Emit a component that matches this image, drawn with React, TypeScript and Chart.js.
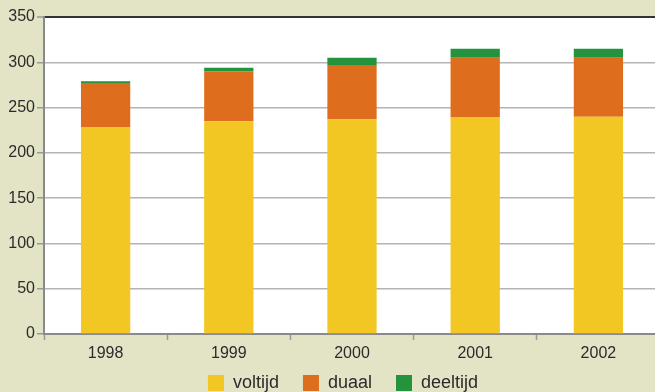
import React, { useEffect, useRef } from "react";
import { Chart, registerables } from "chart.js";

Chart.register(...registerables);

const categories = ["1998", "1999", "2000", "2001", "2002"];
const voltijd = [228, 235, 237, 239, 240];
const duaal = [49, 55, 60, 66, 65];
const deeltijd = [2, 4, 8, 10, 10];
const seriesLabels = ["voltijd", "duaal", "deeltijd"];
const yTickMin = 0;
const yTickMax = 350;
const yTickStep = 50;

const BG = "#e3e4c6";
const TEXT = "#2b2b2b";
const FONT = "'Liberation Sans', Arial, sans-serif";

const plotBg = {
  id: "plotBg",
  beforeDraw(chart: any) {
    const { ctx, chartArea } = chart;
    ctx.save();
    ctx.fillStyle = "#ffffff";
    ctx.fillRect(chartArea.left, chartArea.top, chartArea.right - chartArea.left, chartArea.bottom - chartArea.top);
    ctx.restore();
  },
};

export default function App() {
  const ref = useRef<HTMLCanvasElement>(null);
  useEffect(() => {
    document.body.style.margin = "0";
    document.body.style.overflow = "hidden";
    const chart = new Chart(ref.current!, {
      type: "bar",
      data: {
        labels: categories,
        datasets: [
          { label: seriesLabels[0], data: voltijd, backgroundColor: "#f2c623" },
          { label: seriesLabels[1], data: duaal, backgroundColor: "#de6e1d" },
          { label: seriesLabels[2], data: deeltijd, backgroundColor: "#24943c" },
        ],
      },
      options: {
        animation: false,
        responsive: false,
        maintainAspectRatio: false,
        layout: { padding: { top: 17, left: 26, right: 0, bottom: 0 } },
        datasets: { bar: { categoryPercentage: 1, barPercentage: 0.4 } } as any,
        plugins: {
          tooltip: { enabled: false },
          legend: {
            position: "bottom",
            labels: {
              boxWidth: 16,
              boxHeight: 16,
              padding: 24,
              color: TEXT,
              font: { family: FONT, size: 18 },
            },
          },
        },
        scales: {
          x: {
            stacked: true,
            afterFit: (s: any) => {
              s.height = 16;
              s._computeLabelArea = () => undefined;
            },
            grid: {
              drawOnChartArea: false,
              offset: true,
              tickLength: 6,
              tickColor: "#999999",
              tickWidth: 1.5,
            },
            border: { color: "#8a8a8a", width: 2 },
            ticks: { color: TEXT, font: { family: FONT, size: 16 }, padding: 4 },
          },
          y: {
            stacked: true,
            min: yTickMin,
            max: yTickMax,
            afterFit: (s: any) => {
              s.width = 18;
              s._computeLabelArea = () => undefined;
            },
            grid: {
              color: (c: any) => (c.tick && c.tick.value === yTickMax ? "#333333" : "#b4b4b4"),
              lineWidth: (c: any) => (c.tick && c.tick.value === yTickMax ? 2 : 1.5),
              tickLength: 7,
              tickColor: "#999999",
              tickWidth: 1.5,
            },
            border: { color: "#8a8a8a", width: 2 },
            ticks: {
              stepSize: yTickStep,
              color: TEXT,
              font: { family: FONT, size: 16 },
              padding: 2,
            },
          },
        },
      },
      plugins: [plotBg],
    });
    return () => chart.destroy();
  }, []);
  return (
    <div style={{ position: "fixed", left: 0, top: 0, width: 660, height: 402, background: BG, overflow: "hidden" }}>
      <canvas ref={ref} width={660} height={402} style={{ display: "block" }} />
    </div>
  );
}
